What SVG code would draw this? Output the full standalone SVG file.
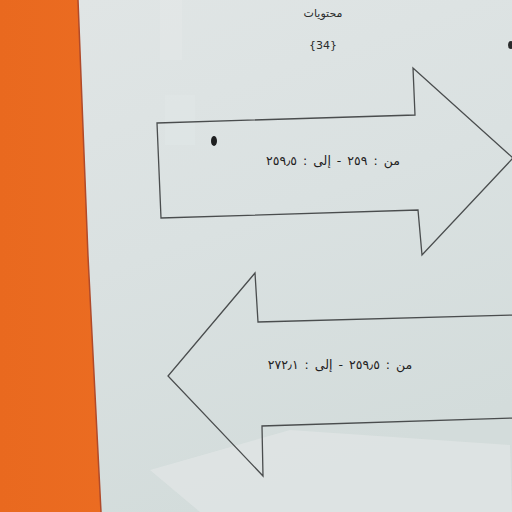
<svg xmlns="http://www.w3.org/2000/svg" width="512" height="512" viewBox="0 0 512 512">
<defs>
<linearGradient id="paper" x1="0" y1="0" x2="0.3" y2="1">
<stop offset="0" stop-color="#e0e5e5"/>
<stop offset="0.5" stop-color="#dae1e1"/>
<stop offset="1" stop-color="#d3dcdb"/>
</linearGradient>
<linearGradient id="orange" x1="0" y1="0" x2="1" y2="0">
<stop offset="0" stop-color="#e9691f"/>
<stop offset="1" stop-color="#f3772a"/>
</linearGradient>
<style>
.arrow{fill:none;stroke:#4a4d4e;stroke-width:1.3;stroke-linejoin:miter}
.lbl{font-family:"DejaVu Sans",sans-serif;fill:#2a2c2d;text-anchor:middle}
.val{font-size:12.5px;word-spacing:2px;fill:#1f2122}
</style>
</defs>
<rect x="0" y="0" width="512" height="512" fill="url(#orange)"/>
<polygon points="78,0 512,0 512,512 101,512 88,256" fill="url(#paper)"/>
<rect x="160" y="0" width="22" height="60" fill="#e8ecec" opacity="0.35"/>
<rect x="165" y="95" width="30" height="50" fill="#e6ebeb" opacity="0.3"/>
<polyline points="78,0 88,256 101,512" fill="none" stroke="#b04a2a" stroke-width="1.5"/>
<polygon points="150,470 290,430 510,445 512,512 200,512" fill="#e4e8e8" opacity="0.6"/>
<g id="title">
<text class="lbl" x="323" y="17" font-size="11" direction="rtl">محتويات</text>
<text class="lbl" x="323" y="49" font-size="11">{34}</text>
</g>
<g id="connectors">
<g id="arrow-right">
<polygon class="arrow" points="157,123 415,115 413,68 513,158 422,255 418,210 161,218"/>
<text class="lbl val" x="333" y="165" direction="rtl">من : ٢٥٩ - إلى : ٢٥٩٫٥</text>
</g>
<g id="arrow-left">
<polygon class="arrow" points="514,315 258,322 255,273 168,376 263,476 262,426 514,418"/>
<text class="lbl val" x="340" y="369" direction="rtl">من : ٢٥٩٫٥ - إلى : ٢٧٢٫١</text>
</g>
</g>
<ellipse cx="214" cy="141" rx="3" ry="5" fill="#1e1f20"/>
<ellipse cx="511" cy="45" rx="3" ry="4" fill="#2a2b2c"/>
</svg>
